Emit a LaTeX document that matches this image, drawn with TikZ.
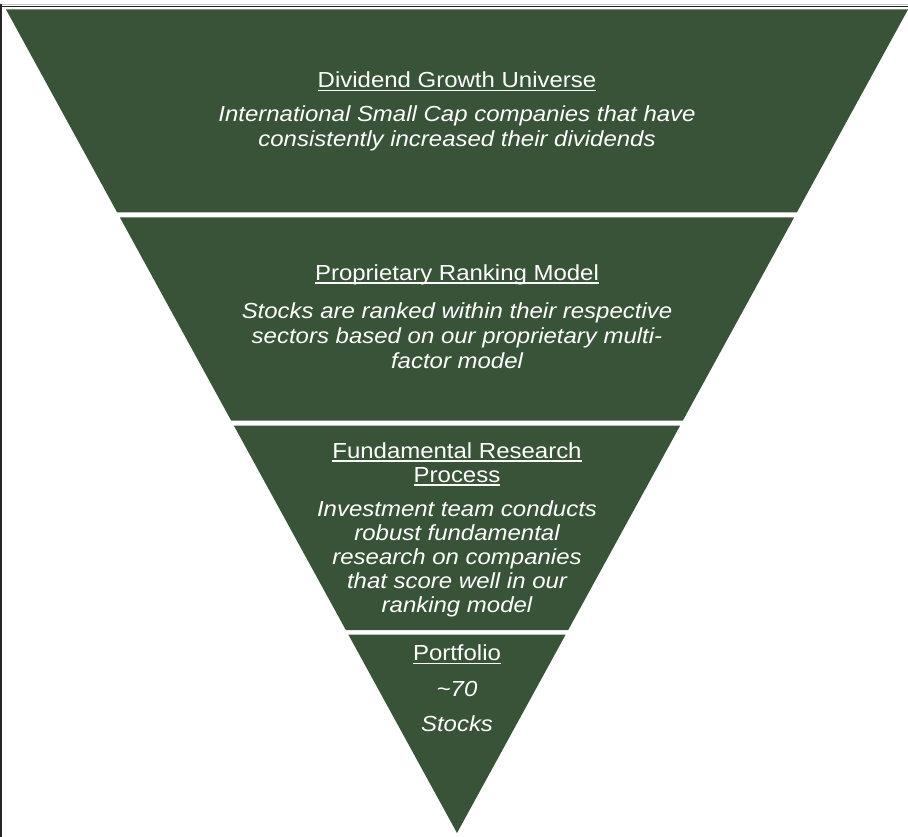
\documentclass[tikz,border=0pt]{standalone}
\usepackage{fontspec}
\setmainfont[FakeStretch=1.10]{Liberation Sans}
\definecolor{fgreen}{RGB}{57,83,57}
\definecolor{framegray}{RGB}{200,200,200}
\newcommand{\myul}[1]{{\setbox0\hbox{#1}\rlap{\rule[-3.2pt]{\wd0}{1.3pt}}\box0}}
\tikzset{
  band/.style={fill=fgreen, draw=none},
  ttl/.style={anchor=base, text=white, inner sep=0pt, font=\fontsize{21.8}{24.5}\selectfont},
  dsc/.style={anchor=base, text=white, inner sep=0pt, font=\fontsize{21.8}{24.5}\selectfont\itshape},
}
\begin{document}
\begin{tikzpicture}[x=1pt,y=-1pt]
\useasboundingbox (0,0) rectangle (908,837);
\fill[white] (0,0) rectangle (908,837);
% frame
\draw[framegray, line width=0.8pt] (0,4) -- (908,4);
\draw[black!85, line width=1.6pt] (0,6.6) -- (908,6.6);
\draw[black!85, line width=1.8pt] (0.9,4) -- (0.9,837);
% bands
\fill[band] (6,9.5) -- (908,9.5) -- (796.8,212.5) -- (117.2,212.5) -- cycle;
\fill[band] (119.9,217.5) -- (794.1,217.5) -- (682.9,420.5) -- (231.1,420.5) -- cycle;
\fill[band] (233.8,425.5) -- (680.2,425.5) -- (568.2,630) -- (345.8,630) -- cycle;
\fill[band] (348.3,634.5) -- (565.7,634.5) -- (457,833) -- cycle;
% band 1
\node[ttl] (t1) at (457,88) {\myul{Dividend Growth Universe}};
\node[dsc] (d1a) at (457,122) {International Small Cap companies that have};
\node[dsc] (d1b) at (457,147) {consistently increased their dividends};
% band 2
\node[ttl] (t2) at (457,280.5) {\myul{Proprietary Ranking Model}};
\node[dsc] (d2a) at (457,318) {Stocks are ranked within their respective};
\node[dsc] (d2b) at (457,343) {sectors based on our proprietary multi-};
\node[dsc] (d2c) at (457,368) {factor model};
% band 3
\node[ttl] (t3a) at (457,458.5) {\myul{Fundamental Research}};
\node[ttl] (t3b) at (457,482.5) {\myul{Process}};
\node[dsc] (d3a) at (457,516.5) {Investment team conducts};
\node[dsc] (d3b) at (457,540.5) {robust fundamental};
\node[dsc] (d3c) at (457,564.5) {research on companies};
\node[dsc] (d3d) at (457,588.5) {that score well in our};
\node[dsc] (d3e) at (457,612.5) {ranking model};
% band 4
\node[ttl] (t4) at (457,660.7) {\myul{Portfolio}};
\node[dsc] (d4a) at (457,696.5) {\textasciitilde 70};
\node[dsc] (d4b) at (457,731.5) {Stocks};
\end{tikzpicture}
\end{document}
